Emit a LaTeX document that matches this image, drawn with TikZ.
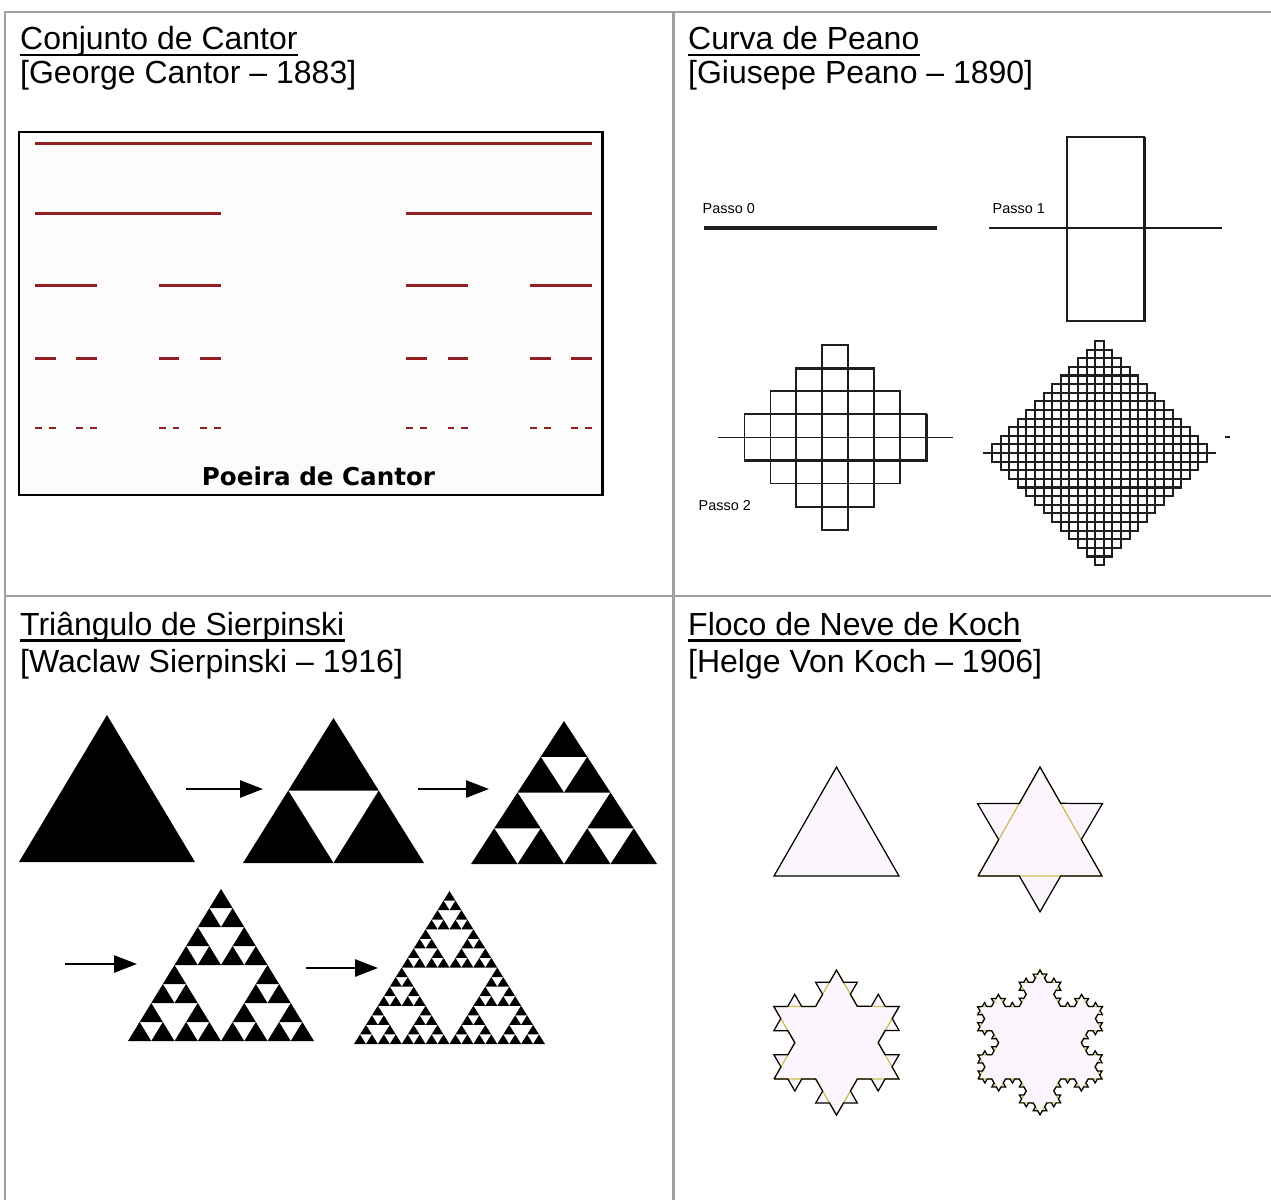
\documentclass[tikz,border=0pt]{standalone}
\usepackage{fontspec}
\setmainfont{Liberation Sans}
\newfontfamily\pixelfont{DejaVu Sans}
\usepackage{xcolor}
\definecolor{tablegray}{RGB}{160,160,160}
\definecolor{cantorred}{RGB}{145,30,35}
\definecolor{kochpink}{RGB}{253,245,253}
\definecolor{kocholive}{RGB}{200,190,80}
\definecolor{peanoink}{RGB}{30,30,30}
\usepackage{tikz}
\usetikzlibrary{arrows.meta, decorations.fractals}

\newcommand{\titlesize}{\fontsize{9.1}{10}\selectfont}
\newcommand{\passosize}{\fontsize{4.1}{5}\selectfont}

\tikzset{
  tableline/.style={tablegray, line width=0.6pt},
  heading/.style={anchor=base west, inner sep=0pt, font=\titlesize},
  underbar/.style={line width=0.7pt},
  cantorline/.style={cantorred, line width=0.85pt, decoration=Cantor set},
  passo/.style={anchor=base west, inner sep=0pt, font=\passosize},
  cell/.style={peanoink, line width=0.5pt},
  stagearrow/.style={line width=0.75pt, -{Triangle[length=0.23cm, width=0.17cm]}},
  kochedge/.style={line width=0.35pt, decoration=Koch snowflake},
  kochold/.style={kocholive, line width=0.35pt},
}

% filled Sierpinski triangle in the unit box, #1 = depth
\newcommand{\sierpinski}[1]{%
  \ifnum#1<1
    \fill (0,0) -- (1,0) -- (0.5,1) -- cycle;
  \else
    \begin{scope}[scale=0.5]
      \sierpinski{\numexpr#1-1\relax}
      \begin{scope}[xshift=1cm]\sierpinski{\numexpr#1-1\relax}\end{scope}
      \begin{scope}[shift={(0.5,1)}]\sierpinski{\numexpr#1-1\relax}\end{scope}
    \end{scope}
  \fi}

\begin{document}
\begin{tikzpicture}
  \useasboundingbox (0,0) rectangle (12.71,12.00);

  % Table grid
  \draw[tableline] (0.05,0) -- (0.05,11.88) -- (12.71,11.88);
  \draw[tableline] (6.735,0) -- (6.735,11.88);
  \draw[tableline] (0.05,6.04) -- (12.71,6.04);

  % --- Cantor ---
  \node[heading] (cantortitle) at (0.195,11.505) {Conjunto de Cantor};
  \node[heading] (cantorname) at (0.195,11.165) {[George Cantor -- 1883]};
  \draw[underbar] ([yshift=-1.55pt]cantortitle.base west) -- ([yshift=-1.55pt]cantortitle.base east);
  \draw[line width=0.85pt, fill=black!1] (0.19,10.68) rectangle (6.02,7.05);
  \draw[cantorline] (0.35,10.567) -- (5.92,10.567);
  \draw[cantorline] decorate{(0.35,9.867) -- (5.92,9.867)};
  \draw[cantorline] decorate{decorate{(0.35,9.143) -- (5.92,9.143)}};
  \draw[cantorline] decorate{decorate{decorate{(0.35,8.413) -- (5.92,8.413)}}};
  \draw[cantorline] decorate{decorate{decorate{decorate{(0.35,7.72) -- (5.92,7.72)}}}};
  \node[anchor=base, font=\pixelfont\bfseries\fontsize{7}{8}\selectfont] (dust) at (3.185,7.15) {Poeira de Cantor};

  % --- Peano ---
  \node[heading] (peanotitle) at (6.875,11.505) {Curva de Peano};
  \node[heading] (peanoname) at (6.875,11.165) {[Giusepe Peano -- 1890]};
  \draw[underbar] ([yshift=-1.55pt]peanotitle.base west) -- ([yshift=-1.55pt]peanotitle.base east);
  % step 0
  \node[passo] (passo0) at (7.02,9.86) {Passo 0};
  \draw[peanoink, line width=0.9pt] (7.04,9.72) -- (9.37,9.72);
  % step 1
  \node[passo] (passo1) at (9.92,9.86) {Passo 1};
  \draw[cell, line width=0.4pt] (9.89,9.72) -- (12.22,9.72);
  \draw[cell] (10.67,10.63) rectangle (11.44,8.79);
  \draw[cell, line width=0.85pt] (11.44,10.63) -- (11.44,8.79) -- (10.67,8.79);
  % step 2
  \foreach \r in {0,...,7} {
    \pgfmathtruncatemacro{\halfw}{\r<4 ? \r : 7-\r}
    \pgfmathtruncatemacro{\cols}{2*\halfw}
    \foreach \c in {0,...,\cols}
      \draw[cell] ({8.353-(\halfw+0.5)*0.2596+\c*0.2596},{8.55-\r*0.231}) rectangle ++(0.2596,-0.231);
  }
  \draw[cell, line width=0.9pt] (7.964,8.319) -- (8.742,8.319);
  \draw[cell, line width=0.9pt] (7.444,7.395) -- (9.262,7.395) -- (9.262,7.857);
  \draw[cell, line width=0.4pt] (7.18,7.626) -- (9.53,7.626);
  \node[passo] (passo2) at (6.98,6.90) {Passo 2};
  % step 3
  \foreach \r in {0,...,25} {
    \pgfmathtruncatemacro{\halfw}{\r<13 ? \r : 25-\r}
    \pgfmathtruncatemacro{\cols}{2*\halfw}
    \foreach \c in {0,...,\cols}
      \draw[cell, line width=0.6pt] ({10.995-(\halfw+0.5)*0.086+\c*0.086},{8.59-\r*0.0862}) rectangle ++(0.086,-0.0862);
  }
  \draw[cell, line width=0.4pt] (9.83,7.469) -- (12.16,7.469);
  \draw[cell] (12.25,7.63) -- (12.30,7.63);

  % --- Sierpinski ---
  \node[heading] (sierptitle) at (0.195,5.65) {Triângulo de Sierpinski};
  \node[heading] (sierpname) at (0.195,5.275) {[Waclaw Sierpinski -- 1916]};
  \draw[underbar] ([yshift=-1.55pt]sierptitle.base west) -- ([yshift=-1.55pt]sierptitle.base east);
  \begin{scope}[shift={(0.19,3.38)}, xscale=1.76, yscale=1.47] \sierpinski{0} \end{scope}
  \begin{scope}[shift={(2.43,3.37)}, xscale=1.81, yscale=1.45] \sierpinski{1} \end{scope}
  \begin{scope}[shift={(4.71,3.36)}, xscale=1.86, yscale=1.43] \sierpinski{2} \end{scope}
  \begin{scope}[shift={(1.28,1.59)}, xscale=1.86, yscale=1.52] \sierpinski{3} \end{scope}
  \begin{scope}[shift={(3.54,1.56)}, xscale=1.91, yscale=1.53] \sierpinski{4} \end{scope}
  \coordinate (go1) at (1.86,4.11);  \coordinate (go1end) at (2.63,4.11);
  \coordinate (go2) at (4.18,4.11);  \coordinate (go2end) at (4.89,4.11);
  \coordinate (go3) at (0.65,2.36);  \coordinate (go3end) at (1.37,2.36);
  \coordinate (go4) at (3.06,2.32);  \coordinate (go4end) at (3.78,2.32);
  \draw[stagearrow] (go1) -- (go1end);
  \draw[stagearrow] (go2) -- (go2end);
  \draw[stagearrow] (go3) -- (go3end);
  \draw[stagearrow] (go4) -- (go4end);

  % --- Koch ---
  \node[heading] (kochtitle) at (6.875,5.65) {Floco de Neve de Koch};
  \node[heading] (kochname) at (6.875,5.28) {[Helge Von Koch -- 1906]};
  \draw[underbar] ([yshift=-1.55pt]kochtitle.base west) -- ([yshift=-1.55pt]kochtitle.base east);
  % stage 0
  \coordinate (k0l) at (7.74,3.24); \coordinate (k0a) at (8.365,4.33); \coordinate (k0r) at (8.99,3.24);
  \filldraw[kochpink, draw=black, line width=0.35pt] (k0l) -- (k0a) -- (k0r) -- cycle;
  % stage 1
  \coordinate (k1l) at (9.78,3.24); \coordinate (k1a) at (10.40,4.33); \coordinate (k1r) at (11.02,3.24);
  \fill[kochpink, decoration=Koch snowflake] decorate{(k1l) -- (k1a) -- (k1r) -- (k1l)};
  \draw[kochold] (k1l) -- (k1a) -- (k1r) -- cycle;
  \draw[kochedge] decorate{(k1l) -- (k1a) -- (k1r) -- (k1l)};
  % stage 2
  \coordinate (k2l) at (7.74,1.21); \coordinate (k2a) at (8.365,2.30); \coordinate (k2r) at (8.99,1.21);
  \fill[kochpink, decoration=Koch snowflake] decorate{decorate{(k2l) -- (k2a) -- (k2r) -- (k2l)}};
  \draw[kochold, decoration=Koch snowflake] decorate{(k2l) -- (k2a) -- (k2r) -- (k2l)};
  \draw[kochedge] decorate{decorate{(k2l) -- (k2a) -- (k2r) -- (k2l)}};
  % stage 3
  \coordinate (k3l) at (9.78,1.21); \coordinate (k3a) at (10.40,2.30); \coordinate (k3r) at (11.02,1.21);
  \fill[kochpink, decoration=Koch snowflake] decorate{decorate{decorate{(k3l) -- (k3a) -- (k3r) -- (k3l)}}};
  \draw[kochold, decoration=Koch snowflake] decorate{decorate{(k3l) -- (k3a) -- (k3r) -- (k3l)}};
  \draw[kochedge] decorate{decorate{decorate{(k3l) -- (k3a) -- (k3r) -- (k3l)}}};
\end{tikzpicture}
\end{document}
